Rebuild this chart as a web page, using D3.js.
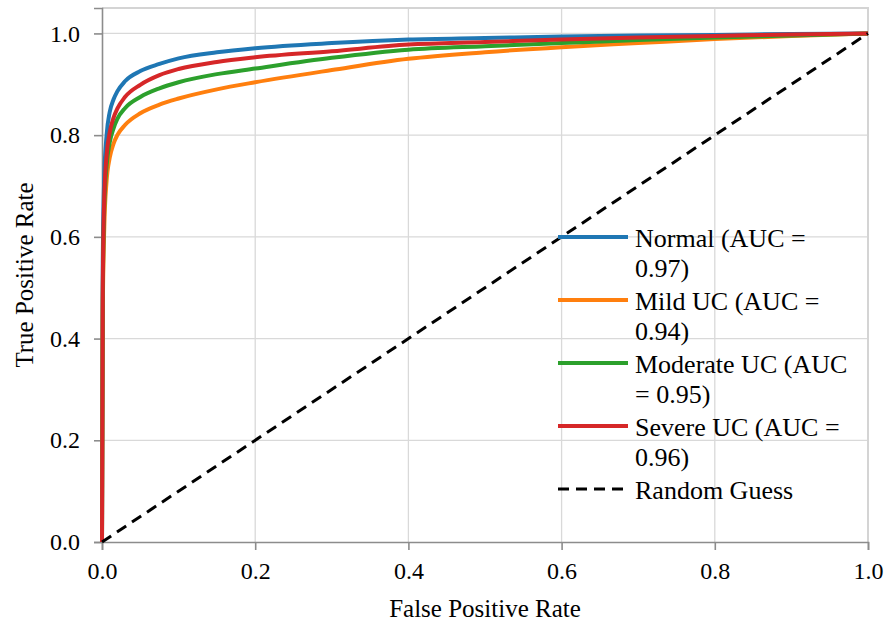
<!DOCTYPE html>
<html>
<head>
<meta charset="utf-8">
<script src="https://cdn.jsdelivr.net/npm/d3@7"></script>
<style>
  body { margin: 0; background: #fff; }
  text { font-family: "Liberation Serif", "Times New Roman", serif; fill: #000; }
</style>
</head>
<body>
<script>
// False positive rate sample points shared by all curves
const fpr = [0, 0.001, 0.003, 0.006, 0.01, 0.015, 0.02, 0.03, 0.05, 0.075, 0.1, 0.15, 0.2, 0.3, 0.4, 0.5, 0.6, 0.7, 0.8, 0.9, 1.0];

// True positive rate
const tprNormal   = [0, 0.55, 0.72, 0.80, 0.845, 0.870, 0.886, 0.906, 0.926, 0.940, 0.951, 0.963, 0.971, 0.981, 0.988, 0.991, 0.994, 0.996, 0.997, 0.999, 1.0];
const tprMild     = [0, 0.45, 0.62, 0.71, 0.755, 0.783, 0.800, 0.820, 0.843, 0.860, 0.872, 0.890, 0.904, 0.928, 0.950, 0.963, 0.973, 0.981, 0.989, 0.995, 1.0];
const tprModerate = [0, 0.48, 0.66, 0.74, 0.785, 0.813, 0.832, 0.853, 0.875, 0.892, 0.904, 0.920, 0.931, 0.952, 0.968, 0.975, 0.981, 0.987, 0.992, 0.996, 1.0];
const tprSevere   = [0, 0.50, 0.68, 0.76, 0.805, 0.834, 0.852, 0.875, 0.899, 0.918, 0.930, 0.944, 0.953, 0.965, 0.978, 0.983, 0.988, 0.992, 0.995, 0.998, 1.0];

const seriesNames = ["Normal", "Mild UC", "Moderate UC", "Severe UC"];
const seriesColors = ["#1f77b4", "#ff7f0e", "#2ca02c", "#d62728"];
const seriesTpr = [tprNormal, tprMild, tprModerate, tprSevere];

// legend labels, wrapped like the original
const legendLabels = [
  ["Normal (AUC =", "0.97)"],
  ["Mild UC (AUC =", "0.94)"],
  ["Moderate UC (AUC", "= 0.95)"],
  ["Severe UC (AUC =", "0.96)"],
  ["Random Guess"]
];

const randomX = [0, 1];
const randomY = [0, 1];

const xTicks = [0, 0.2, 0.4, 0.6, 0.8, 1.0];
const yTicks = [0, 0.2, 0.4, 0.6, 0.8, 1.0];

// SVG size and margins
const svgWidth = 887;
const svgHeight = 625;
const margin = { top: 8, right: 19, bottom: 83, left: 102 };
const chartWidth = svgWidth - margin.left - margin.right;
const chartHeight = svgHeight - margin.top - margin.bottom;

const svg = d3.select("body").append("svg")
  .attr("width", svgWidth)
  .attr("height", svgHeight);

const chartGroup = svg.append("g")
  .attr("transform", `translate(${margin.left}, ${margin.top})`);

const x = d3.scaleLinear().domain([0, 1]).range([0, chartWidth]);
const y = d3.scaleLinear().domain([0, 1.05]).range([chartHeight, 0]);

// gridlines
chartGroup.selectAll(".vgrid")
  .data(xTicks.slice(1))
  .enter().append("line")
  .attr("x1", d => x(d)).attr("x2", d => x(d))
  .attr("y1", 0).attr("y2", chartHeight)
  .attr("stroke", "#d9d9d9").attr("stroke-width", 1.3);

chartGroup.selectAll(".hgrid")
  .data(yTicks.slice(1))
  .enter().append("line")
  .attr("x1", 0).attr("x2", chartWidth)
  .attr("y1", d => y(d)).attr("y2", d => y(d))
  .attr("stroke", "#d9d9d9").attr("stroke-width", 1.3);

// top and right frame
chartGroup.append("path")
  .attr("d", `M0,0H${chartWidth}V${chartHeight}`)
  .attr("fill", "none")
  .attr("stroke", "#d4d4d4")
  .attr("stroke-width", 2);

// axes
const xAxis = d3.axisBottom(x).tickValues(xTicks).tickFormat(d3.format(".1f")).tickSize(8).tickPadding(12);
const yAxis = d3.axisLeft(y).tickValues(yTicks).tickFormat(d3.format(".1f")).tickSize(8).tickPadding(14);

const gx = chartGroup.append("g")
  .attr("transform", `translate(0, ${chartHeight})`)
  .call(xAxis);
const gy = chartGroup.append("g").call(yAxis);

[gx, gy].forEach(g => {
  g.select(".domain").attr("stroke", "#8c8c8c").attr("stroke-width", 1.6);
  g.selectAll(".tick line").attr("stroke", "#8c8c8c").attr("stroke-width", 1.6);
  g.selectAll(".tick text")
    .attr("font-size", 24)
    .attr("fill", "#000");
});

// ROC curves
const line = d3.line()
  .x(d => x(d[0]))
  .y(d => y(d[1]))
  .curve(d3.curveMonotoneX);

seriesTpr.forEach((tpr, i) => {
  chartGroup.append("path")
    .datum(fpr.map((f, j) => [f, tpr[j]]))
    .attr("fill", "none")
    .attr("stroke", seriesColors[i])
    .attr("stroke-width", 4)
    .attr("stroke-linejoin", "round")
    .attr("d", line);
});

// random guess diagonal
chartGroup.append("path")
  .datum(randomX.map((v, j) => [v, randomY[j]]))
  .attr("fill", "none")
  .attr("stroke", "#000")
  .attr("stroke-width", 3)
  .attr("stroke-dasharray", "11,7")
  .attr("d", d3.line().x(d => x(d[0])).y(d => y(d[1])));

// axis titles
svg.append("text")
  .attr("x", margin.left + chartWidth / 2)
  .attr("y", 617)
  .attr("text-anchor", "middle")
  .attr("font-size", 25)
  .text("False Positive Rate");

svg.append("text")
  .attr("transform", `translate(33, ${margin.top + chartHeight / 2}) rotate(-90)`)
  .attr("text-anchor", "middle")
  .attr("font-size", 25)
  .text("True Positive Rate");

// legend
const legend = svg.append("g").attr("transform", "translate(558, 237)");
const legendStep = 63;

legendLabels.forEach((lines, i) => {
  const g = legend.append("g").attr("transform", `translate(0, ${i * legendStep})`);
  const isRandom = i === seriesNames.length;
  g.append("line")
    .attr("x1", 0).attr("x2", 70)
    .attr("y1", 0).attr("y2", 0)
    .attr("stroke", isRandom ? "#000" : seriesColors[i])
    .attr("stroke-width", isRandom ? 3 : 4)
    .attr("stroke-dasharray", isRandom ? "11,7" : null);
  lines.forEach((t, k) => {
    g.append("text")
      .attr("x", 77)
      .attr("y", 10 + k * 30)
      .attr("font-size", 26)
      .text(t);
  });
});
</script>
</body>
</html>
